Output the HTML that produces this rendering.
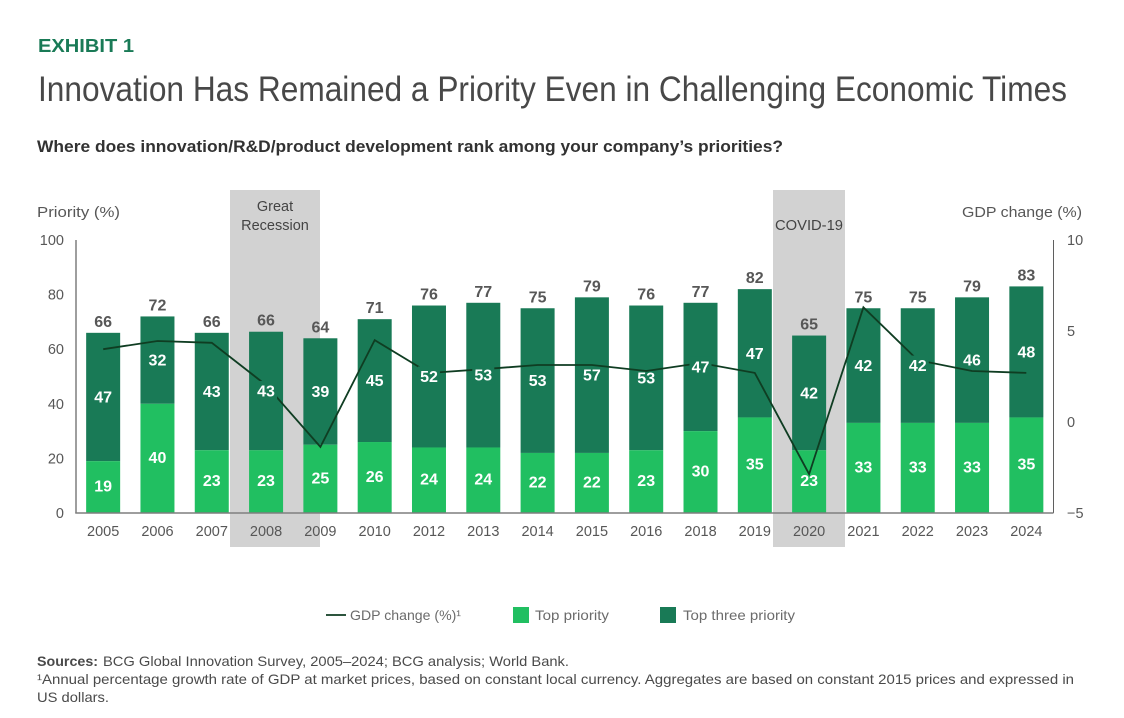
<!DOCTYPE html>
<html lang="en">
<head>
<meta charset="utf-8">
<title>Innovation Has Remained a Priority Even in Challenging Economic Times</title>
<style>
  html, body { margin: 0; padding: 0; background: #fff; }
  body { width: 1124px; height: 718px; overflow: hidden; }
  svg { display: block; font-family: "Liberation Sans", Arial, sans-serif; }
</style>
</head>
<body>
<svg id="chart" xmlns="http://www.w3.org/2000/svg" width="1124" height="718" viewBox="0 0 1124 718">
  <rect x="0" y="0" width="1124" height="718" fill="#ffffff"/>

  <text x="38" y="52" font-size="18.5" font-weight="700" fill="#197a56" textLength="96" lengthAdjust="spacingAndGlyphs">EXHIBIT 1</text>
  <text x="38" y="101" font-size="35" fill="#484848" textLength="1029" lengthAdjust="spacingAndGlyphs">Innovation Has Remained a Priority Even in Challenging Economic Times</text>
  <text x="37" y="152" font-size="16.5" font-weight="700" fill="#323232" textLength="746" lengthAdjust="spacingAndGlyphs">Where does innovation/R&amp;D/product development rank among your company’s priorities?</text>

  <rect x="230" y="190" width="90" height="357" fill="#d2d2d2"/>
  <rect x="773" y="190" width="72" height="357" fill="#d2d2d2"/>
  <text font-size="14.5" fill="#444444" text-anchor="middle"><tspan x="275" y="211">Great</tspan><tspan x="275" y="230">Recession</tspan></text>
  <text x="809" y="230" font-size="14.5" fill="#444444" text-anchor="middle" textLength="68" lengthAdjust="spacingAndGlyphs">COVID-19</text>

  <text x="37" y="217" font-size="15" fill="#575757" textLength="83" lengthAdjust="spacingAndGlyphs">Priority (%)</text>
  <text x="962" y="217" font-size="15" fill="#575757" textLength="120" lengthAdjust="spacingAndGlyphs">GDP change (%)</text>

  <g id="bars"></g>
  <g id="axes"></g>
  <g id="line"></g>
  <g id="labels"></g>

  <g>
    <g>
      <line x1="326" y1="615" x2="346" y2="615" stroke="#0f3d22" stroke-width="1.8"/>
      <text x="350" y="620" font-size="14" fill="#6b6b6b" textLength="111" lengthAdjust="spacingAndGlyphs">GDP change (%)¹</text>
    </g>
    <g>
      <rect x="513" y="607" width="16" height="16" fill="#21bf61"/>
      <text x="535" y="620" font-size="14" fill="#6b6b6b" textLength="74" lengthAdjust="spacingAndGlyphs">Top priority</text>
    </g>
    <g>
      <rect x="660" y="607" width="16" height="16" fill="#197a56"/>
      <text x="683" y="620" font-size="14" fill="#6b6b6b" textLength="112" lengthAdjust="spacingAndGlyphs">Top three priority</text>
    </g>
  </g>

  <g>
    <text x="37" y="666" font-size="14" font-weight="700" fill="#4a4a4a" textLength="61" lengthAdjust="spacingAndGlyphs">Sources:</text>
    <text x="103" y="666" font-size="14" fill="#4a4a4a" textLength="466" lengthAdjust="spacingAndGlyphs">BCG Global Innovation Survey, 2005–2024; BCG analysis; World Bank.</text>
    <text x="37" y="684" font-size="14" fill="#4a4a4a" textLength="1037" lengthAdjust="spacingAndGlyphs">¹Annual percentage growth rate of GDP at market prices, based on constant local currency. Aggregates are based on constant 2015 prices and expressed in</text>
    <text x="37" y="702" font-size="14" fill="#4a4a4a" textLength="72" lengthAdjust="spacingAndGlyphs">US dollars.</text>
  </g>
</svg>

<script>
var years = [2005, 2006, 2007, 2008, 2009, 2010, 2012, 2013, 2014, 2015, 2016, 2018, 2019, 2020, 2021, 2022, 2023, 2024];
var topPriority = [19, 40, 23, 23, 25, 26, 24, 24, 22, 22, 23, 30, 35, 23, 33, 33, 33, 35];
var topThree = [47, 32, 43, 43.4, 39, 45, 52, 53, 53, 57, 53, 47, 47, 42, 42, 42, 46, 48];
var gdpChange = [4.0, 4.45, 4.35, 2.03, -1.37, 4.5, 2.69, 2.9, 3.13, 3.13, 2.8, 3.24, 2.7, -2.86, 6.3, 3.4, 2.8, 2.7];
var priorityTicks = [0, 20, 40, 60, 80, 100];
var gdpTicks = [-5, 0, 5, 10];
var maskedLabelYears = [2008, 2012, 2013, 2018, 2022];

var NS = 'http://www.w3.org/2000/svg';
var plotLeft = 76, plotRight = 1053.5, plotTop = 240, plotBottom = 513;
var barWidth = 34;

function xBand(i) { return plotLeft + (plotRight - plotLeft) * (i + 0.5) / years.length; }
function yPriority(v) { return plotBottom - (v / 100) * (plotBottom - plotTop); }
function yGdp(v) { return plotBottom - ((v + 5) / 15) * (plotBottom - plotTop); }

function make(tag, parent, attrs, text) {
  var el = document.createElementNS(NS, tag);
  for (var k in attrs) { el.setAttribute(k, attrs[k]); }
  if (text !== undefined) { el.textContent = text; }
  parent.appendChild(el);
  return el;
}

var barsLayer = document.getElementById('bars');
var axesLayer = document.getElementById('axes');
var lineLayer = document.getElementById('line');
var labelsLayer = document.getElementById('labels');

years.forEach(function (year, i) {
  var cx = xBand(i);
  var total = topPriority[i] + topThree[i];
  var yLow = yPriority(topPriority[i]);
  var yHigh = yPriority(total);

  var darkBar = make('rect', barsLayer, { x: cx - barWidth / 2, y: yHigh, width: barWidth, height: yLow - yHigh, fill: '#197a56' });
  
  

  var lightBar = make('rect', barsLayer, { x: cx - barWidth / 2, y: yLow, width: barWidth, height: plotBottom - yLow, fill: '#21bf61' });
  
  

  var yearLabel = make('text', axesLayer, { x: cx, y: 536, 'font-size': 14.5, fill: '#575757', 'text-anchor': 'middle' }, String(year));
  
  
});

priorityTicks.forEach(function (t) {
  var tick = make('text', axesLayer, { x: 64, y: yPriority(t) + 5, 'font-size': 14.5, fill: '#575757', 'text-anchor': 'end' }, String(t));
  
  
});

gdpTicks.forEach(function (t) {
  var tick = make('text', axesLayer, { x: 1067, y: yGdp(t) + 5, 'font-size': 14.5, fill: '#575757' }, t < 0 ? '\u2212' + Math.abs(t) : String(t));
  
  
});

var leftAxis = make('line', axesLayer, { x1: plotLeft, y1: plotTop, x2: plotLeft, y2: plotBottom, stroke: '#7f7f7f', 'stroke-width': 1.5 });



var rightAxis = make('line', axesLayer, { x1: plotRight, y1: plotTop, x2: plotRight, y2: plotBottom, stroke: '#5f5f5f', 'stroke-width': 1 });



var baseline = make('line', axesLayer, { x1: plotLeft - 0.75, y1: plotBottom, x2: plotRight, y2: plotBottom, stroke: '#7f7f7f', 'stroke-width': 1.5 });



var points = gdpChange.map(function (v, i) { return xBand(i).toFixed(1) + ',' + yGdp(v).toFixed(1); }).join(' ');
var gdpLine = make('polyline', lineLayer, { points: points, fill: 'none', stroke: '#0f3d22', 'stroke-width': 1.8, 'stroke-linejoin': 'miter' });



years.forEach(function (year, i) {
  var cx = xBand(i);
  var total = topPriority[i] + topThree[i];
  var yLow = yPriority(topPriority[i]);
  var yHigh = yPriority(total);
  var yDarkMid = (yLow + yHigh) / 2;
  var yLightMid = (yLow + plotBottom) / 2 - 1;

  if (maskedLabelYears.indexOf(year) >= 0) {
    var mask = make('rect', labelsLayer, { x: cx - 11, y: yDarkMid - 10, width: 22, height: 19, fill: '#197a56' });
    
    
  }

  var totalLabel = make('text', labelsLayer, { x: cx, y: yHigh - 6, 'font-size': 16, 'font-weight': 700, fill: '#575757', 'text-anchor': 'middle' }, String(Math.round(total)));
  
  

  var darkLabel = make('text', labelsLayer, { x: cx, y: yDarkMid + 5.5, 'font-size': 16, 'font-weight': 700, fill: '#ffffff', 'text-anchor': 'middle' }, String(Math.round(topThree[i])));
  
  

  var lightLabel = make('text', labelsLayer, { x: cx, y: yLightMid + 5.5, 'font-size': 16, 'font-weight': 700, fill: '#ffffff', 'text-anchor': 'middle' }, String(Math.round(topPriority[i])));
  
  
});
</script>
</body>
</html>
